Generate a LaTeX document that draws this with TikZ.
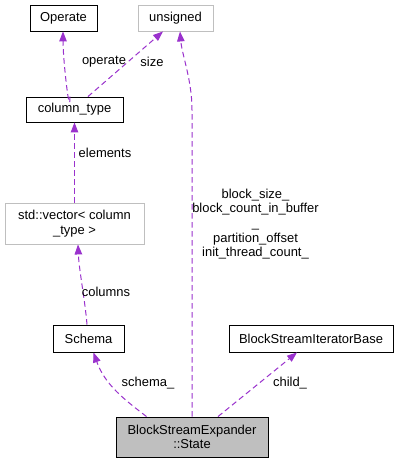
\documentclass[tikz,border=0pt]{standalone}
\usepackage{fontspec}
\setmainfont{Liberation Sans}
\usetikzlibrary{arrows.meta}
\definecolor{edgec}{HTML}{9A32CD}
\definecolor{grayb}{HTML}{BFBFBF}
\begin{document}
\begin{tikzpicture}[x=1bp,y=-1bp,
  every node/.style={font=\fontsize{13}{14.7}\selectfont, inner sep=0pt, align=center},
  cls/.style={draw=black, line width=0.9bp, fill=white},
  ext/.style={draw=grayb, line width=0.9bp, fill=white},
  cur/.style={draw=black, line width=0.9bp, fill=grayb},
  edge/.style={draw=edgec, line width=1bp, dash pattern=on 5.5bp off 3.5bp, -{Triangle[length=10bp,width=7.5bp]}},
  lbl/.style={}]
\useasboundingbox (0,0) rectangle (403,464);
\fill[white] (0,0) rectangle (403,464);
\node[cls, minimum width=67bp, minimum height=26bp] (operate) at (63.5,18) {Operate};
\node[ext, minimum width=75bp, minimum height=26bp] (unsigned) at (175.5,18) {unsigned};
\node[cls, minimum width=97bp, minimum height=25bp] (coltype) at (74.5,109.5) {column\_type};
\node[ext, minimum width=139bp, minimum height=41bp] (vector) at (74.5,223.5) {std::vector< column\\\_type >};
\node[cls, minimum width=71bp, minimum height=27bp] (schema) at (88.5,338.5) {Schema};
\node[cls, minimum width=164bp, minimum height=27bp] (bsib) at (311,338.5) {BlockStreamIteratorBase};
\node[cur, minimum width=152bp, minimum height=40bp] (state) at (192,437) {BlockStreamExpander\\::State};

\coordinate (opS) at ([xshift=-4.5bp]coltype.north);
\coordinate (szS) at ([xshift=13.5bp]coltype.north);
\draw[edge] (opS) .. controls ([yshift=-25bp]opS) and (63,60) .. ([xshift=-0.5bp]operate.south);
\draw[edge] (szS) -- ([xshift=-12.5bp]unsigned.south);
\draw[edge] (state.north) -- (192,110) .. controls (192,80) and (182,55) .. ([xshift=4.5bp]unsigned.south);
\draw[edge] (vector.north) -- (coltype.south);
\draw[edge] ([xshift=-1.5bp]schema.north) .. controls (85,300) and (79,270) .. ([xshift=3.5bp]vector.south);
\draw[edge] ([xshift=-45.5bp]state.north) .. controls (125,400) and (105,385) .. ([xshift=5bp]schema.south);
\draw[edge] ([xshift=26bp]state.north) -- ([xshift=-14bp]bsib.south);

\node[lbl] (l1) at (104,62) {operate};
\node[lbl] (l2) at (152,62) {size};
\node[lbl] (l3) at (105,153) {elements};
\node[lbl] (l4) at (106,292) {columns};
\node[lbl] (l5) at (148,383) {schema\_};
\node[lbl] (l6) at (290,383) {child\_};
\node[lbl] (l7) at (255.5,224) {block\_size\_\\block\_count\_in\_buffer\\\_\\partition\_offset\\init\_thread\_count\_};
\end{tikzpicture}
\end{document}
